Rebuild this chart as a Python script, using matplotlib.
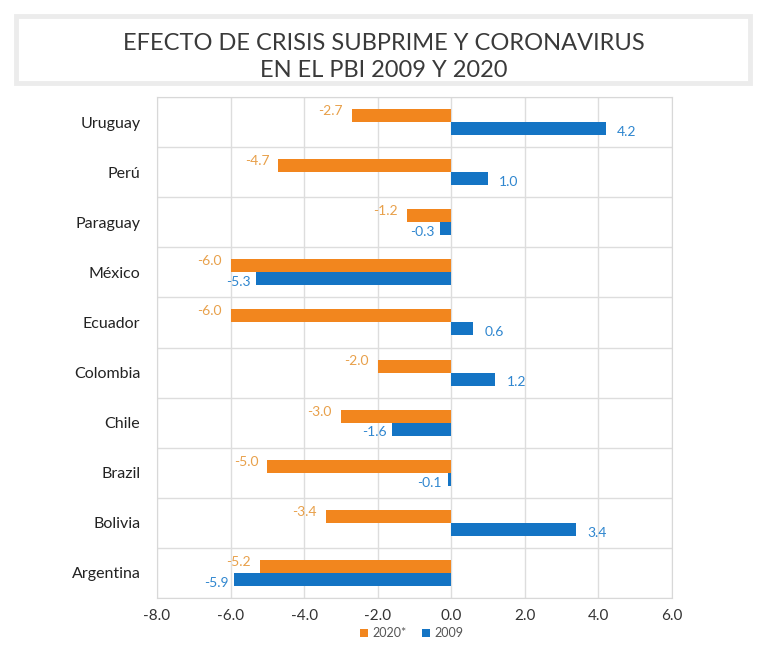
import matplotlib
matplotlib.use("Agg")
import matplotlib.pyplot as plt
import numpy as np
from matplotlib.patches import Rectangle

plt.rcParams['font.family'] = ['Lato', 'DejaVu Sans']

countries = ["Uruguay", "Perú", "Paraguay", "México", "Ecuador",
             "Colombia", "Chile", "Brazil", "Bolivia", "Argentina"]
v2020 = [-2.7, -4.7, -1.2, -6.0, -6.0, -2.0, -3.0, -5.0, -3.4, -5.2]
v2009 = [4.2, 1.0, -0.3, -5.3, 0.6, 1.2, -1.6, -0.1, 3.4, -5.9]
xticks = [-8.0, -6.0, -4.0, -2.0, 0.0, 2.0, 4.0, 6.0]
title = "EFECTO DE CRISIS SUBPRIME Y CORONAVIRUS\nEN EL PBI 2009 Y 2020"

orange = "#F2861E"
blue = "#1474C4"
orange_txt = "#E8A04A"
blue_txt = "#2F86CF"

fig = plt.figure(figsize=(7.57, 6.49), dpi=100)
ax = fig.add_axes([157/757, 1-598/649, (672-157)/757, (598-97)/649])

y = np.arange(len(countries))
h = 0.26
ax.barh(y - h/2, v2020, height=h, color=orange, label="2020*", zorder=3)
ax.barh(y + h/2, v2009, height=h, color=blue, label="2009", zorder=3)

for yi, v in zip(y, v2020):
    ax.text(v - 0.25 if v < 0 else v + 0.25, yi - h*0.85, f"{v:.1f}",
            ha="right" if v < 0 else "left", va="center", fontsize=10,
            color=orange_txt, zorder=4)
for yi, v in zip(y, v2009):
    ax.text(v - 0.15 if v < 0 else v + 0.3, yi + h*0.75, f"{v:.1f}",
            ha="right" if v < 0 else "left", va="center", fontsize=10,
            color=blue_txt, zorder=4)

ax.set_xlim(-8, 6)
ax.set_ylim(len(countries) - 0.5, -0.5)
ax.set_xticks(xticks)
ax.set_xticklabels([f"{t:.1f}" for t in xticks], fontsize=11, color="#333333")
ax.set_yticks(y)
ax.set_yticklabels(countries, fontsize=11.5, color="#222222")
ax.set_yticks(np.arange(-0.5, len(countries), 1), minor=True)
ax.tick_params(axis="y", which="both", length=0, pad=12)
ax.tick_params(axis="x", which="both", length=0, pad=8)
ax.grid(True, axis="x", color="#dddddd", linewidth=1, zorder=0)
ax.grid(True, axis="y", which="minor", color="#dddddd", linewidth=1, zorder=0)
for s in ax.spines.values():
    s.set_color("#d8d8d8")

fig.patches.append(Rectangle((15.5/757, 1-82.5/649), (749.5-15.5)/757, (82.5-15.5)/649,
                             transform=fig.transFigure, fill=False,
                             edgecolor="#ececec", linewidth=3.5))
fig.text(384/757, 1-57/649, title, ha="center", va="center", fontsize=17,
         color="#3a3a3a", linespacing=1.35)

fig.legend(loc="center", bbox_to_anchor=(412/757, 1-633/649), ncol=2,
           frameon=False, fontsize=9, handlelength=0.6, handleheight=0.6,
           columnspacing=1.2, handletextpad=0.4, labelcolor="#555555")

fig.savefig("out.png", dpi=100, facecolor="white")
